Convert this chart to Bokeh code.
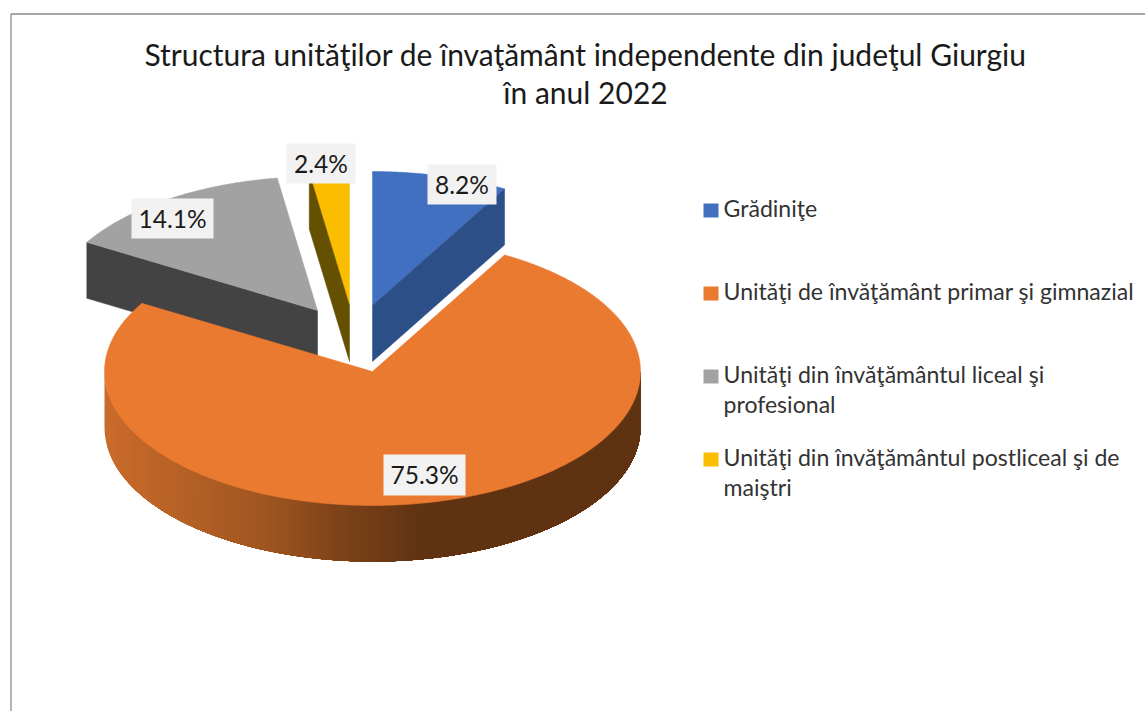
import math
from bokeh.plotting import figure
from bokeh.core.properties import value
from bokeh.embed import file_html
from bokeh.resources import INLINE

# ---- data
categories = ["Grădiniţe", "Unităţi de învăţământ primar şi gimnazial",
              "Unităţi din învăţământul liceal şi profesional",
              "Unităţi din învăţământul postliceal şi de maiştri"]
values = [8.2, 75.3, 14.1, 2.4]
title_lines = ["Structura unităţilor de învaţământ independente din judeţul Giurgiu", "în anul 2022"]
legend_lines = [["Grădiniţe"], ["Unităţi de învăţământ primar şi gimnazial"],
                ["Unităţi din învăţământul liceal şi"  , "profesional"],
                ["Unităţi din învăţământul postliceal şi de", "maiştri"]]

# ---- style / layout
top_colors = ["#4270C1", "#E97A30", "#A2A2A2", "#FBBD00"]
face_colors = ["#2D4F87", None, "#434343", "#654F00"]
apex = [(372, 305), (372, 371), (317, 310), (349, 305)]
RX, RY, DEPTH = 268, 134, 56
FONT = value("Lato")
TXT = "#1a1a1a"
W, H = 1145, 711
BASE = 0.38  # em shift of the text baseline

p = figure(width=W, height=H, x_range=(0, W), y_range=(H, 0),
           output_backend="svg", toolbar_location=None, min_border=0, outline_line_color=None)
p.axis.visible = False
p.grid.visible = False
p.background_fill_color = "white"
p.border_fill_color = "white"

# chart area border (top and left only are in view)
p.line([10.5, 10.5, 1145], [711, 13.5, 13.5], line_color="#8C8C8C", line_width=1.3)

def pt(c, t):
    return (c[0] + RX * math.sin(t), c[1] - RY * math.cos(t))

total = sum(values)
starts, ends = [], []
acc = 0.0
for v in values:
    starts.append(acc / total * 2 * math.pi)
    acc += v
    ends.append(acc / total * 2 * math.pi)

def top_face(i):
    n = max(8, int(abs(ends[i] - starts[i]) * 120))
    pts = [apex[i]] + [pt(apex[i], starts[i] + (ends[i] - starts[i]) * k / n) for k in range(n + 1)]
    return [q[0] for q in pts], [q[1] for q in pts]

def shade(x):
    stops = [(104, (0xC9, 0x6B, 0x2B)), (263, (0xA0, 0x56, 0x20)), (340, (0x7C, 0x42, 0x18)),
             (423, (0x5F, 0x32, 0x12)), (640, (0x5F, 0x32, 0x12))]
    for (x0, c0), (x1, c1) in zip(stops, stops[1:]):
        if x <= x1:
            f = max(0, (x - x0) / (x1 - x0))
            return "#%02X%02X%02X" % tuple(round(a + (b - a) * f) for a, b in zip(c0, c1))
    return "#5F3212"

def cut_face(i, t):
    e = pt(apex[i], t)
    p.patch([apex[i][0], e[0], e[0], apex[i][0]], [apex[i][1], e[1], e[1] + DEPTH, apex[i][1] + DEPTH],
            fill_color=face_colors[i], line_color=face_colors[i], line_width=0.5)

def top(i):
    xs, ys = top_face(i)
    p.patch(xs, ys, fill_color=top_colors[i], line_color=top_colors[i], line_width=0.5)

cut_face(2, starts[2]); top(2)
top(0); cut_face(0, ends[0])
top(3); cut_face(3, starts[3])

# orange rim: painted left to right, each layer covering the rest of the rim
c = apex[1]
step = 3
xpos = c[0] - RX
while xpos < 423:
    # lower half of the ellipse: angle runs from 270 deg (left) down to 90 deg (right)
    a0 = math.pi + math.asin((c[0] - xpos) / RX)
    n = 90
    ang = [a0 + (math.pi / 2 - a0) * k / n for k in range(n + 1)]
    top_edge = [pt(c, a) for a in ang]
    xs = [q[0] for q in top_edge] + [q[0] for q in reversed(top_edge)]
    ys = [q[1] for q in top_edge] + [q[1] + DEPTH for q in reversed(top_edge)]
    p.patch(xs, ys, fill_color=shade(xpos), line_color=None)
    xpos += step
top(1)

# data labels
label_box = [(427, 496, 164, 204), (383, 465, 454, 495), (131, 213, 198, 238), (286, 355, 143, 183)]
for v, (x0, x1, y0, y1) in zip(values, label_box):
    p.quad(left=[x0], right=[x1], top=[y0], bottom=[y1], fill_color="#F2F2F2", line_color=None)
    p.text(x=[(x0 + x1) / 2], y=[(y0 + y1) / 2 + 9 - BASE * 24.5], text=[f"{v:.1f}%"], text_font=FONT,
           text_font_size="24.5px", text_align="center", text_baseline="alphabetic", text_color=TXT)

# title
for line, y in zip(title_lines, [65, 103]):
    p.text(x=[585], y=[y - BASE * 30], text=[line], text_font=FONT, text_font_size="30px",
           text_align="center", text_baseline="alphabetic", text_color=TXT)

# legend
leg_y = [217, 300, 383, 466]
line_step = 30
for color, lines, y in zip(top_colors, legend_lines, leg_y):
    p.quad(left=[703], right=[718], top=[y - 14], bottom=[y], fill_color=color, line_color=None)
    for j, line in enumerate(lines):
        p.text(x=[723], y=[y + j * line_step - 1 - BASE * 23.2], text=[line], text_font=FONT, text_font_size="23.1px",
               text_align="left", text_baseline="alphabetic", text_color="#333333")

open("out.html", "w").write(file_html(p, INLINE))
